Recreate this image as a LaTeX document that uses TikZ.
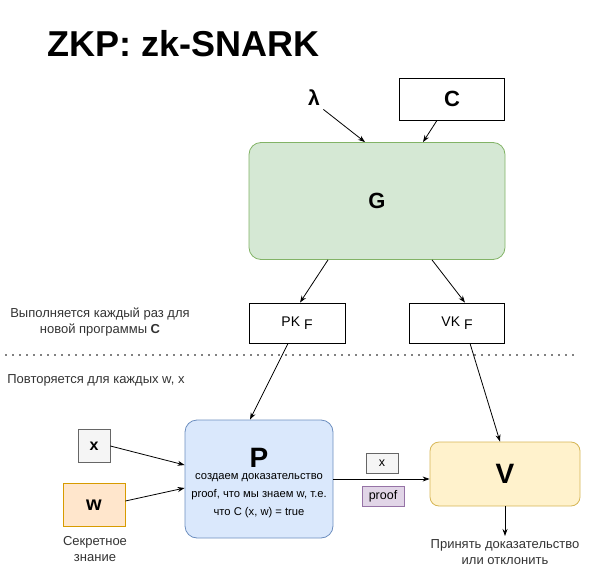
\documentclass[tikz,border=0pt]{standalone}
\usepackage{fontspec}
\setmainfont{Liberation Sans}
\usetikzlibrary{arrows.meta,calc}
\newcommand{\subF}{\ \raisebox{-0.45ex}{F}}

\begin{document}
\begin{tikzpicture}[x=1pt,y=-1pt,
  box/.style={draw=black, line width=0.8pt, inner sep=0pt},
  block/.style={box, rounded corners=12pt},
  note/.style={font=\fontsize{13}{16}\selectfont, align=center, text=black!80},
  link/.style={-{Stealth[length=7pt,width=5pt]}, line width=0.8pt}]
\useasboundingbox (0,0) rectangle (609,577);
\node[font=\fontsize{36}{40}\bfseries\selectfont, anchor=west] (title) at (44,44) {ZKP: zk-SNARK};
\node[font=\fontsize{21}{22}\bfseries\selectfont] (lam) at (314,98) {λ};
\node[box, minimum width=105, minimum height=42, font=\fontsize{22}{24}\bfseries\selectfont] (C) at (452,99) {C};
\node[block, fill={rgb,255:red,213;green,232;blue,212}, draw={rgb,255:red,130;green,179;blue,102},
  minimum width=256, minimum height=117, font=\fontsize{22}{24}\bfseries\selectfont] (G) at (377,201) {G};
\node[box, minimum width=96, minimum height=40, font=\fontsize{14}{16}\selectfont] (PK) at (297,323) {PK\subF};
\node[box, minimum width=95, minimum height=40, font=\fontsize{14}{16}\selectfont] (VK) at (457,323) {VK\subF};
\node[note] (once) at (100,322) {Выполняется каждый раз для\\новой программы \textbf{C}};
\draw[line width=1.6pt, line cap=round, dash pattern=on 0pt off 7pt] (6,355) -- (580,355);
\node[note] (again) at (96,380) {Повторяется для каждых w, x};
\node[block, fill={rgb,255:red,218;green,232;blue,252}, draw={rgb,255:red,108;green,142;blue,191},
  minimum width=148, minimum height=118] (P) at (259,479) {};
\node[font=\fontsize{28}{30}\bfseries\selectfont] (Plabel) at (259,458) {P};
\node[font=\fontsize{11.2}{18}\selectfont, align=center] (Ptext) at (259,496) {создаем доказательство\\proof, что мы знаем w, т.е.\\что C (x, w) = true};
\node[box, fill={rgb,255:red,245;green,245;blue,245}, draw={rgb,255:red,102;green,102;blue,102},
  minimum width=32, minimum height=33, font=\fontsize{16}{16}\bfseries\selectfont] (xin) at (94,446) {x};
\node[box, fill={rgb,255:red,255;green,230;blue,204}, draw={rgb,255:red,215;green,155;blue,0},
  minimum width=62, minimum height=43, font=\fontsize{20}{20}\bfseries\selectfont] (w) at (94,505) {w};
\node[note] (secret) at (95,549) {Секретное\\знание};
\node[block, fill={rgb,255:red,255;green,242;blue,204}, draw={rgb,255:red,214;green,182;blue,86},
  minimum width=150, minimum height=64, rounded corners=9pt, font=\fontsize{28}{30}\bfseries\selectfont] (V) at (505,474) {V};
\node[box, fill={rgb,255:red,245;green,245;blue,245}, draw={rgb,255:red,102;green,102;blue,102},
  minimum width=32, minimum height=20, font=\fontsize{12.5}{13}\selectfont] (xlab) at (382,463) {x};
\node[box, fill={rgb,255:red,225;green,213;blue,231}, draw={rgb,255:red,150;green,115;blue,166},
  minimum width=42, minimum height=20, font=\fontsize{12.5}{13}\selectfont] (prooflab) at (383,496) {proof};
\node[note, anchor=north] (accept) at (505,536) {Принять доказательство\\или отклонить};
% arrows
\draw[link] (lam.south east) -- ($(G.north)+(-12,0)$);
\draw[link] ($(C.south)+(-15,0)$) -- ($(G.north)+(46,0)$);
\draw[link] ($(G.south)+(-49,0)$) -- ($(PK.north)+(3,0)$);
\draw[link] ($(G.south)+(55,0)$) -- ($(VK.north)+(8,0)$);
\draw[link] ($(PK.south)+(-9,0)$) -- ($(P.north)+(-9,0)$);
\draw[link] ($(VK.south)+(13,0)$) -- ($(V.north)+(-5,0)$);
\draw[link] (xin.east) -- ($(P.west)+(0,-14)$);
\draw[link] ($(w.east)+(0,-4)$) -- ($(P.west)+(0,9)$);
\draw[link] (P.east) -- (P.east -| V.west);
\draw[link] (V.south) -- (accept.north);
\end{tikzpicture}
\end{document}
